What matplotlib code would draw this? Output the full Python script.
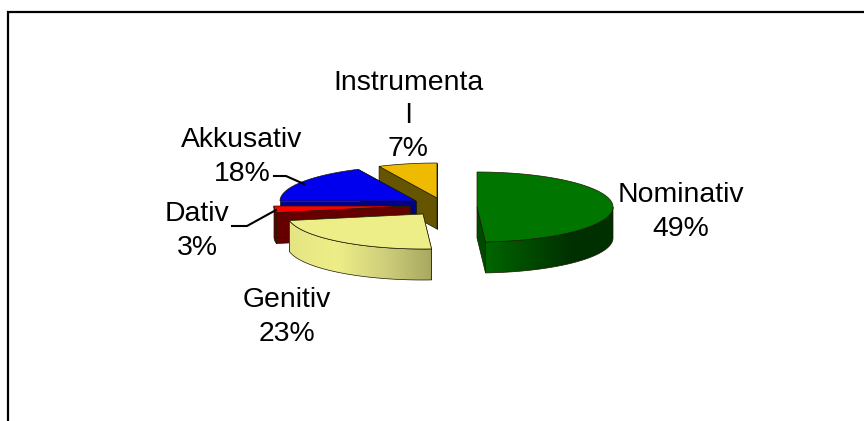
import numpy as np
import matplotlib
matplotlib.use("Agg")
import matplotlib.pyplot as plt
from matplotlib.colors import LinearSegmentedColormap
from matplotlib.patches import Polygon

categories = ["Nominativ", "Genitiv", "Dativ", "Akkusativ", "Instrumental"]
shares = [49, 23, 3, 18, 7]
label_texts = ["Nominativ\n49%", "Genitiv\n23%", "Dativ\n3%", "Akkusativ\n18%", "Instrumenta\nl\n7%"]

top_colors = ["#007500", "#EEEE88", "#FF0000", "#0000EE", "#EEBB00"]
side_colors = ["#004A00", "#D0D080", "#660000", "#000088", "#665500"]
wall_stops = [["#006600", "#004A00", "#003000", "#003000"],
              ["#E4E484", "#EEEE88", "#CFCF7C", "#A8A860"],
              ["#660000", "#660000"], ["#000088", "#000088"], ["#665500", "#665500"]]
apexes = [(477, 207), (423, 214), (410, 206), (416, 201), (437, 198)]
label_xy = [(681, 212), (287, 317), (197, 231), (242, 157), (408, 116)]
leaders = {2: [(232, 226), (247, 226), (276, 210)], 3: [(274, 176), (286, 176), (304, 184)]}
RX, RY, DEPTH = 136, 35, 31

plt.rcParams["font.family"] = ["Liberation Sans", "DejaVu Sans"]
fig = plt.figure(figsize=(8.64, 4.21), dpi=100)
ax = fig.add_axes([0, 0, 1, 1])
ax.axis("off")

ax.plot([8, 8, 864], [421, 12, 12], color="black", lw=1.6, solid_capstyle="butt", solid_joinstyle="miter", zorder=1)


def rim(apex, angle_deg):
    a = np.radians(angle_deg)
    return apex[0] + RX * np.sin(a), apex[1] - RY * np.cos(a)


edges = np.concatenate([[0], np.cumsum(shares)]) * 3.6
EDGE = dict(edgecolor="#1a1a00", linewidth=0.5)

for i in [4, 3, 2, 1, 0]:
    apex = apexes[i]
    a0, a1 = edges[i], edges[i + 1]
    z = 10 + (4 - i) * 10
    for ang in (a0, a1):
        p = rim(apex, ang)
        quad = [apex, p, (p[0], p[1] + DEPTH), (apex[0], apex[1] + DEPTH)]
        ax.add_patch(Polygon(quad, closed=True, facecolor=side_colors[i], zorder=z, **EDGE))
    w0, w1 = max(a0, 90), min(a1, 270)
    if w1 > w0:
        pts = [rim(apex, t) for t in np.linspace(w0, w1, 61)]
        xs = np.array([p[0] for p in pts])
        ys = np.array([p[1] for p in pts])
        outline = pts + [(p[0], p[1] + DEPTH) for p in pts[::-1]]
        cmap = LinearSegmentedColormap.from_list("w", wall_stops[i])
        shape = Polygon(outline, closed=True, fill=False, zorder=z + 2, **EDGE)
        ax.add_patch(shape)
        im = ax.imshow(np.linspace(0, 1, 256)[None, :], cmap=cmap, aspect="auto",
                       extent=(xs.min(), xs.max(), ys.max() + DEPTH, ys.min()), zorder=z + 1)
        im.set_clip_path(shape.get_path(), shape.get_transform())
    top = [apex] + [rim(apex, t) for t in np.linspace(a0, a1, 80)]
    ax.add_patch(Polygon(top, closed=True, facecolor=top_colors[i], zorder=z + 3, **EDGE))

for i, pts in leaders.items():
    lx, ly = zip(*pts)
    ax.plot(lx, ly, color="black", lw=1.5, zorder=70, solid_joinstyle="round")

for txt, (x, y) in zip(label_texts, label_xy):
    ax.text(x, y, txt, ha="center", va="center", fontsize=20.4, color="black", linespacing=1.36, zorder=80)

ax.set_xlim(0, 864)
ax.set_ylim(421, 0)
fig.savefig("out.png", dpi=100)
